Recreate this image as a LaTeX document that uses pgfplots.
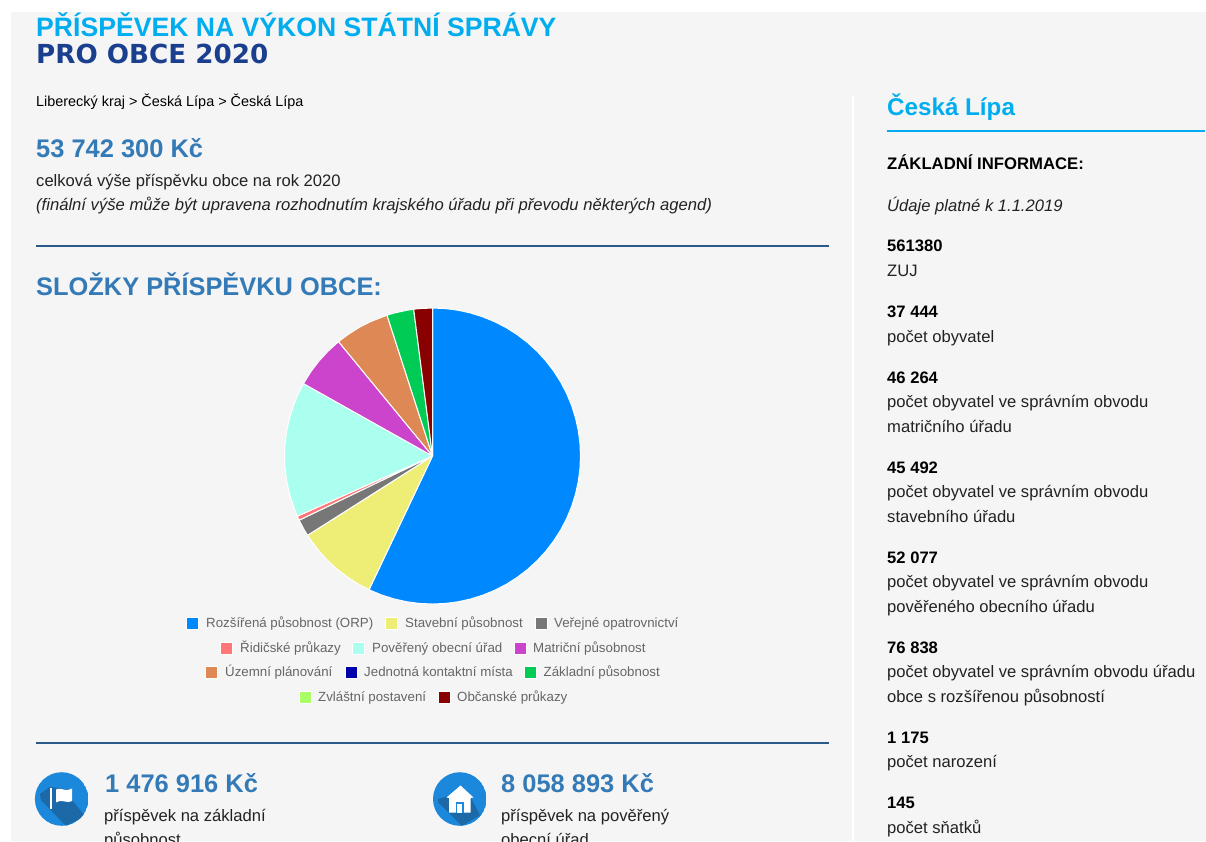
\documentclass[border=0pt]{standalone}
\usepackage{fontspec}
\setmainfont{Liberation Sans}
\newfontfamily\heavy{DejaVu Sans}
\usepackage{pgfplots}
\pgfplotsset{compat=1.18}
\usepgfplotslibrary{polar}
\definecolor{bgc}{HTML}{F5F5F5}
\definecolor{cy}{HTML}{00AEEF}
\definecolor{nv}{HTML}{1B3F8F}
\definecolor{hb}{HTML}{337AB7}
\definecolor{rule}{HTML}{2A5A88}
\definecolor{lg}{HTML}{666666}
\definecolor{ic}{HTML}{1B88DC}
\definecolor{ics}{HTML}{1D69A8}
\definecolor{tx}{HTML}{222222}
\definecolor{c1}{HTML}{0088FF}
\definecolor{c2}{HTML}{EEEE77}
\definecolor{c3}{HTML}{777777}
\definecolor{c4}{HTML}{FF7777}
\definecolor{c5}{HTML}{AAFFEE}
\definecolor{c6}{HTML}{CC44CC}
\definecolor{c7}{HTML}{DD8855}
\definecolor{c8}{HTML}{0000AA}
\definecolor{c9}{HTML}{00CC55}
\definecolor{c10}{HTML}{AAFF66}
\definecolor{c11}{HTML}{880000}
\newcommand\TT[6]{\node[anchor=base west,inner sep=0pt,text=#4,font=\fontsize{#3}{#3}\selectfont #5] at (#1,#2) {#6};}
\newcommand\LG[5]{\fill[#3,draw=white,line width=0.8pt] (#1,#2-6) rectangle ++(12,12);
 \TT{#1+#4}{#2+4.5}{13.3}{lg}{}{#5}}
\begin{document}
\begin{tikzpicture}[x=1pt,y=-1pt]
\path[use as bounding box] (0,0) rectangle (1206,841);
\clip (0,0) rectangle (1206,841);
\fill[white] (0,0) rectangle (1206,841);
\fill[bgc] (11,12) rectangle (1206,841);
\fill[white] (851.5,96) rectangle (853.5,841);
% header
\begin{scope}
\clip (11,12) rectangle (1206,841);
\TT{36}{36}{26.6}{cy}{\bfseries}{PŘÍSPĚVEK NA VÝKON STÁTNÍ SPRÁVY}
\end{scope}
\TT{36}{63}{26.2}{nv}{\heavy\bfseries}{PRO OBCE 2020}
\TT{36}{106}{14.4}{black}{}{Liberecký kraj > Česká Lípa > Česká Lípa}
\TT{36}{157}{25.45}{hb}{\bfseries}{53 742 300 Kč}
\TT{36}{186}{16.6}{tx}{}{celková výše příspěvku obce na rok 2020}
\TT{36}{210}{16.63}{tx}{\itshape}{(finální výše může být upravena rozhodnutím krajského úřadu při převodu některých agend)}
\draw[rule,line width=1.6pt] (36,246) -- (829,246);
\TT{36}{295}{25.4}{hb}{\bfseries}{SLOŽKY PŘÍSPĚVKU OBCE:}
\draw[rule,line width=1.6pt] (36,743) -- (829,743);
% pie
\begin{polaraxis}[at={(432.5pt,-456pt)},anchor=center,width=296pt,height=296pt,scale only axis,
  hide axis,ymin=0,ymax=1,clip=false]
\pgfplotsset{every axis plot/.append style={draw=white,line width=1pt,line join=round}}
% Rozsirena pusobnost (ORP): 0 to 205.4 deg clockwise from the top
\addplot[fill=c1] coordinates {(0,0)(90,1)(85,1)(80,1)(75,1)(70,1)(65,1)(60,1)(55,1)(50,1)(45,1)(40,1)(35,1)(30,1)(25,1)(20,1)(15,1)(10,1)(5,1)(0,1)(-5,1)(-10,1)(-15,1)(-20,1)(-25,1)(-30,1)(-35,1)(-40,1)(-45,1)(-50,1)(-55,1)(-60,1)(-65,1)(-70,1)(-75,1)(-80,1)(-85,1)(-90,1)(-95,1)(-100,1)(-105,1)(-110,1)(-115,1)(-115.4,1)} --cycle;
% Stavebni
\addplot[fill=c2] coordinates {(0,0)(-115.4,1)(-120,1)(-125,1)(-130,1)(-135,1)(-140,1)(-145,1)(-147.6,1)} --cycle;
% Verejne opatrovnictvi
\addplot[fill=c3] coordinates {(0,0)(-147.6,1)(-150,1)(-154.3,1)} --cycle;
% Ridicske prukazy
\addplot[fill=c4] coordinates {(0,0)(-154.3,1)(-156,1)} --cycle;
% Povereny obecni urad
\addplot[fill=c5] coordinates {(0,0)(-156,1)(-160,1)(-165,1)(-170,1)(-175,1)(-180,1)(-185,1)(-190,1)(-195,1)(-200,1)(-205,1)(-209.3,1)} --cycle;
% Matricni
\addplot[fill=c6] coordinates {(0,0)(-209.3,1)(-215,1)(-220,1)(-225,1)(-230.6,1)} --cycle;
% Uzemni planovani
\addplot[fill=c7] coordinates {(0,0)(-230.6,1)(-235,1)(-240,1)(-245,1)(-252.1,1)} --cycle;
% Zakladni pusobnost
\addplot[fill=c9] coordinates {(0,0)(-252.1,1)(-255,1)(-260,1)(-262.7,1)} --cycle;
% Obcanske prukazy
\addplot[fill=c11] coordinates {(0,0)(-262.7,1)(-265,1)(-270,1)} --cycle;
\end{polaraxis}
% legend
\LG{186.5}{623}{c1}{19.5}{Rozšířená působnost (ORP)}
\LG{385}{623}{c2}{20}{Stavební působnost}
\LG{535}{623}{c3}{19}{Veřejné opatrovnictví}
\LG{220.5}{648}{c4}{19.5}{Řidičské průkazy}
\LG{352.5}{648}{c5}{19.5}{Pověřený obecní úřad}
\LG{514}{648}{c6}{19}{Matriční působnost}
\LG{205.5}{672}{c7}{19.5}{Územní plánování}
\LG{345}{672}{c8}{19}{Jednotná kontaktní místa}
\LG{524}{672}{c9}{19.5}{Základní působnost}
\LG{299.5}{697}{c10}{18.5}{Zvláštní postavení}
\LG{438}{697}{c11}{19}{Občanské průkazy}
% icons
\begin{scope}
\clip (61.7,799) circle (26.8);
\fill[ic] (61.7,799) circle (26.8);
\fill[ics] (50,787) -- (40,794) -- (41,800) -- (66,826) -- (85,816) -- (72,800) -- (72,790) -- cycle;
\end{scope}
\fill[white] (50,787.5) rectangle (52.2,808.5);
\fill[white] (56,789.5) .. controls (60,787.5) and (63,790) .. (66,790) .. controls (68,790) and (70,789.5) .. (72,788.5) -- (72,801) .. controls (68,803) and (65,801) .. (62,801) .. controls (60,801) and (58,801) .. (56,802.5) -- cycle;
\begin{scope}
\clip (459.8,799) circle (26.8);
\fill[ic] (459.8,799) circle (26.8);
\fill[ics] (448,796) -- (438,799) -- (438,802) -- (462,826) -- (480,815) -- (471,798) -- cycle;
\end{scope}
\fill[white] (460.5,785.5) -- (473.5,797.5) -- (470.7,798) -- (470.7,812.7) -- (449,812.7) -- (449,798) -- (446.5,797.5) -- cycle;
\fill[ic] (455.7,802) rectangle (463.5,812.7);
\fill[white] (457.3,803.5) rectangle (462,812.7);
% bottom left
\TT{105}{792}{25.45}{hb}{\bfseries}{1 476 916 Kč}
\TT{104}{821}{16.6}{tx}{}{příspěvek na základní}
\TT{104}{845}{16.6}{tx}{}{působnost}
\TT{501}{792}{25.45}{hb}{\bfseries}{8 058 893 Kč}
\TT{501}{821}{16.6}{tx}{}{příspěvek na pověřený}
\TT{501}{845}{16.6}{tx}{}{obecní úřad}
% right column
\TT{887}{115}{24.2}{cy}{\bfseries}{Česká Lípa}
\draw[cy,line width=2pt] (887,131) -- (1205,131);
\TT{887}{169}{16.7}{black}{\bfseries}{ZÁKLADNÍ INFORMACE:}
\TT{887}{211}{16.6}{tx}{\itshape}{Údaje platné k 1.1.2019}
\TT{887}{251.5}{16.6}{black}{\bfseries}{561380}
\TT{887}{276}{16.6}{tx}{}{ZUJ}
\TT{887}{317}{16.6}{black}{\bfseries}{37 444}
\TT{887}{342}{16.6}{tx}{}{počet obyvatel}
\TT{887}{383}{16.6}{black}{\bfseries}{46 264}
\TT{887}{407}{16.6}{tx}{}{počet obyvatel ve správním obvodu}
\TT{887}{432}{16.6}{tx}{}{matričního úřadu}
\TT{887}{473}{16.6}{black}{\bfseries}{45 492}
\TT{887}{497}{16.6}{tx}{}{počet obyvatel ve správním obvodu}
\TT{887}{522}{16.6}{tx}{}{stavebního úřadu}
\TT{887}{563}{16.6}{black}{\bfseries}{52 077}
\TT{887}{587}{16.6}{tx}{}{počet obyvatel ve správním obvodu}
\TT{887}{612}{16.6}{tx}{}{pověřeného obecního úřadu}
\TT{887}{653}{16.6}{black}{\bfseries}{76 838}
\TT{887}{677}{16.6}{tx}{}{počet obyvatel ve správním obvodu úřadu}
\TT{887}{702}{16.6}{tx}{}{obce s rozšířenou působností}
\TT{887}{743}{16.6}{black}{\bfseries}{1 175}
\TT{887}{767}{16.6}{tx}{}{počet narození}
\TT{887}{808}{16.6}{black}{\bfseries}{145}
\TT{887}{833}{16.6}{tx}{}{počet sňatků}
\end{tikzpicture}
\end{document}
